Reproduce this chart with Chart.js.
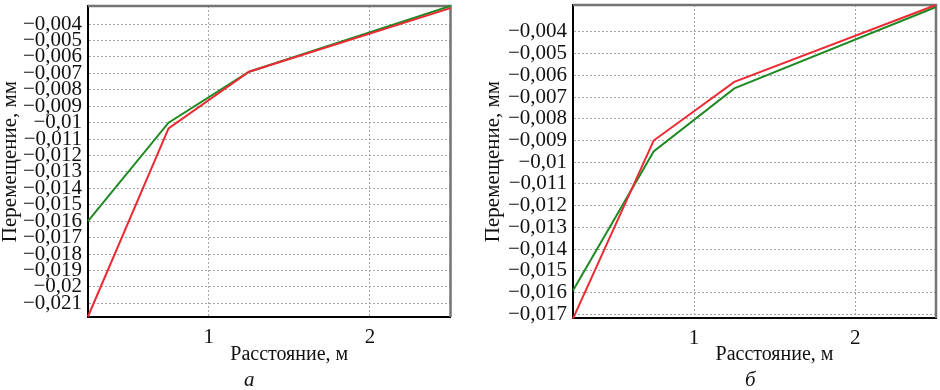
<!DOCTYPE html>
<html lang="ru">
<head>
<meta charset="utf-8">
<script src="https://cdn.jsdelivr.net/npm/chart.js@4.4.1/dist/chart.umd.min.js"></script>
<style>
  html, body { margin: 0; padding: 0; background: #fff; }
  body { width: 940px; height: 390px; position: relative; overflow: hidden; font-family: "Liberation Serif", serif; }
  .box { position: absolute; top: 0; width: 470px; height: 370px; }
  .cap { position: absolute; top: 369px; font-style: italic; font-size: 21px; line-height: 1; color: #111; }
</style>
</head>
<body>
<div class="box" style="left:0"><canvas id="chart-a"></canvas></div>
<div class="box" style="left:470px"><canvas id="chart-b"></canvas></div>
<div class="cap" style="left:244px">а</div>
<div class="cap" style="left:745px">б</div>

<script>
// расстояние, м
const distance = [0.25, 0.75, 1.25, 2.5];

// рисунок а
const redA = [-0.0218, -0.01035, -0.0069, -0.00303];
const greenA = [-0.0160, -0.0100, -0.0069, -0.0029];
const yTicksA = [-0.004, -0.005, -0.006, -0.007, -0.008, -0.009, -0.01, -0.011, -0.012,
  -0.013, -0.014, -0.015, -0.016, -0.017, -0.018, -0.019, -0.02, -0.021];

// рисунок б
const redB = [-0.0172, -0.0090, -0.0063, -0.00276];
const greenB = [-0.0159, -0.0095, -0.0066, -0.00285];
const yTicksB = [-0.004, -0.005, -0.006, -0.007, -0.008, -0.009, -0.01, -0.011, -0.012,
  -0.013, -0.014, -0.015, -0.016, -0.017];

const xTicks = [1, 2];

function fmt(v) {
  return String(Number(v.toFixed(4))).replace(".", ",").replace("-", "\u2212");
}

// серая рамка сверху и справа
const framePlugin = {
  id: "frame",
  beforeDatasetsDraw(chart) {
    const { ctx, chartArea: a } = chart;
    ctx.save();
    ctx.strokeStyle = "#747474";
    ctx.lineWidth = 2.5;
    ctx.beginPath();
    ctx.moveTo(a.left, a.top);
    ctx.lineTo(a.right, a.top);
    ctx.lineTo(a.right, a.bottom);
    ctx.stroke();
    ctx.restore();
  }
};

function noPad(s) {
  s.paddingTop = 0;
  s.paddingBottom = 0;
  s.paddingLeft = 0;
  s.paddingRight = 0;
}

function makeChart(id, red, green, yTicks, yMin, yMax, opt) {
  const ctx = document.getElementById(id).getContext("2d");
  return new Chart(ctx, {
    type: "line",
    data: {
      datasets: [
        { data: distance.map((x, i) => ({ x: x, y: red[i] })), borderColor: "#ec2a33", borderWidth: 2, pointRadius: 0, tension: 0 },
        { data: distance.map((x, i) => ({ x: x, y: green[i] })), borderColor: "#1f8a24", borderWidth: 2, pointRadius: 0, tension: 0 }
      ]
    },
    options: {
      responsive: true,
      maintainAspectRatio: false,
      animation: false,
      clip: false,
      layout: { padding: { top: opt.top, right: opt.right, left: 0, bottom: 0 } },
      plugins: { legend: { display: false }, tooltip: { enabled: false } },
      scales: {
        x: {
          type: "linear",
          min: 0.25,
          max: 2.5,
          afterBuildTicks: (s) => { s.ticks = xTicks.map(v => ({ value: v })); },
          afterFit: (s) => { s.height = opt.xh; noPad(s); },
          grid: { color: "#a4a4a4", lineWidth: 1, drawTicks: false },
          border: { color: "#000", width: 2, dash: [2, 2] },
          ticks: { color: "#111", padding: 8, font: { family: "Liberation Serif", size: 21 }, callback: (v) => String(v) },
          title: { display: true, text: "\u2003\u2003Расстояние, м", color: "#111", padding: { top: 0, bottom: 3 }, font: { family: "Liberation Serif", size: 20, lineHeight: 1.2 } }
        },
        y: {
          min: yMin,
          max: yMax,
          afterBuildTicks: (s) => { s.ticks = yTicks.map(v => ({ value: v })); },
          afterFit: (s) => { s.width = opt.yw; noPad(s); },
          grid: { color: "#a4a4a4", lineWidth: 1, drawTicks: false },
          border: { color: "#000", width: 2, dash: [2, 2] },
          ticks: { color: "#111", padding: 6, autoSkip: false, font: { family: "Liberation Serif", size: 21, lineHeight: 1 }, callback: (v) => fmt(v) },
          title: { display: true, text: "Перемещение, мм", color: "#111", padding: { top: opt.yTitlePad, bottom: 0 }, font: { family: "Liberation Serif", size: 21, lineHeight: 1 } }
        }
      }
    },
    plugins: [framePlugin]
  });
}

makeChart("chart-a", redA, greenA, yTicksA, -0.02183, -0.0029,
  { top: 6, right: 19.5, xh: 53, yw: 88, yTitlePad: 0 });
makeChart("chart-b", redB, greenB, yTicksB, -0.01717, -0.00276,
  { top: 5, right: 4, xh: 52, yw: 103, yTitlePad: 13 });
</script>
</body>
</html>
